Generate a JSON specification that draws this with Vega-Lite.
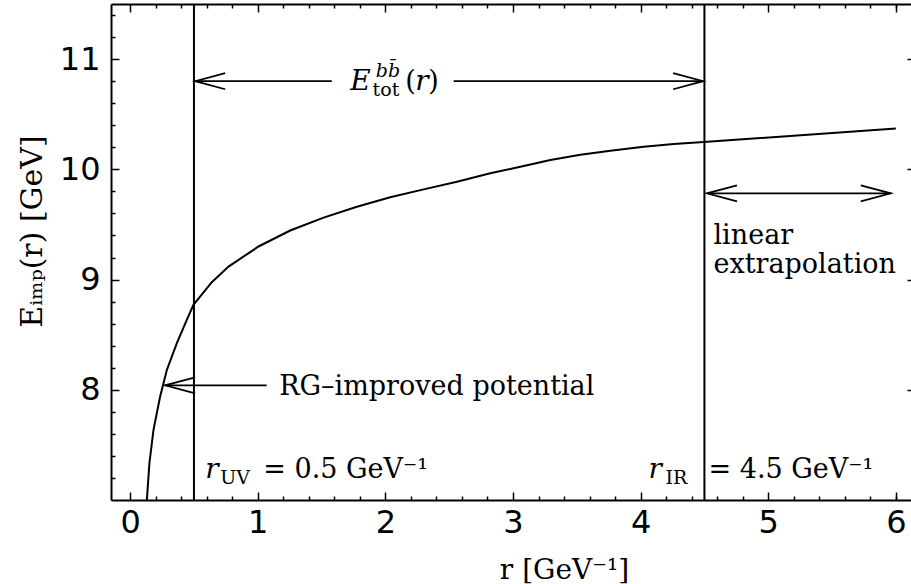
{
  "$schema": "https://vega.github.io/schema/vega-lite/v6.json",
  "width": 804,
  "height": 496,
  "autosize": {"type": "none"},
  "padding": {"left": 111, "top": 4, "right": 0, "bottom": 84},
  "background": "white",
  "config": {
    "view": {"stroke": null},
    "axis": {
      "domainColor": "black", "domainWidth": 2, "tickColor": "black", "tickWidth": 1.5,
      "labelFont": "DejaVu Sans", "labelFontSize": 32, "labelColor": "black",
      "titleFont": "DejaVu Serif", "titleFontSize": 28, "titleFontWeight": "normal", "titleColor": "black",
      "grid": false, "labelOverlap": false, "labelFlush": false
    }
  },
  "datasets": {
    "curve": [
      {"r": 0.131, "E": 7.0}, {"r": 0.151, "E": 7.335}, {"r": 0.183, "E": 7.637}, {"r": 0.235, "E": 7.939},
      {"r": 0.288, "E": 8.181}, {"r": 0.366, "E": 8.424}, {"r": 0.444, "E": 8.635}, {"r": 0.496, "E": 8.771},
      {"r": 0.64, "E": 8.976}, {"r": 0.771, "E": 9.118}, {"r": 1.006, "E": 9.3}, {"r": 1.254, "E": 9.445},
      {"r": 1.516, "E": 9.562}, {"r": 1.777, "E": 9.66}, {"r": 2.038, "E": 9.746}, {"r": 2.3, "E": 9.818},
      {"r": 2.561, "E": 9.888}, {"r": 2.822, "E": 9.964}, {"r": 3.084, "E": 10.03}, {"r": 3.293, "E": 10.085},
      {"r": 3.528, "E": 10.133}, {"r": 3.763, "E": 10.169}, {"r": 4.024, "E": 10.205}, {"r": 4.26, "E": 10.23},
      {"r": 4.495, "E": 10.248}, {"r": 6.0, "E": 10.37}
    ],
    "shafts": [
      {"r": 0.51, "r2": 1.58, "E": 10.8},
      {"r": 2.535, "r2": 4.49, "E": 10.8},
      {"r": 0.274, "r2": 1.07, "E": 8.04},
      {"r": 4.52, "r2": 5.96, "E": 9.782}
    ],
    "heads": [
      {"r": 0.51, "E": 10.8, "dir": "L"},
      {"r": 4.49, "E": 10.8, "dir": "R"},
      {"r": 0.274, "E": 8.04, "dir": "L"},
      {"r": 4.52, "E": 9.782, "dir": "L"},
      {"r": 5.96, "E": 9.782, "dir": "R"}
    ],
    "vlines": [{"r": 0.5}, {"r": 4.5}],
    "textMain": [
      {"r": 1.168, "E": 7.955, "t": "RG–improved potential"},
      {"r": 1.043, "E": 7.201, "t": "= 0.5 GeV⁻¹"},
      {"r": 4.532, "E": 7.201, "t": "= 4.5 GeV⁻¹"},
      {"r": 4.571, "E": 9.325, "t": "linear"},
      {"r": 4.571, "E": 9.062, "t": "extrapolation"},
      {"r": 2.155, "E": 10.722, "t": "("},
      {"r": 2.336, "E": 10.722, "t": ")"}
    ],
    "textItalic": [
      {"r": 0.588, "E": 7.201, "t": "r"},
      {"r": 4.061, "E": 7.201, "t": "r"},
      {"r": 1.725, "E": 10.722, "t": "E"},
      {"r": 2.235, "E": 10.722, "t": "r"}
    ],
    "textSub": [
      {"r": 0.706, "E": 7.201, "t": "UV"},
      {"r": 4.194, "E": 7.201, "t": "IR"},
      {"r": 1.9, "E": 10.722, "t": "tot"}
    ],
    "textSup": [
      {"r": 1.925, "E": 10.722, "t": "bb̄"}
    ]
  },
  "resolve": {"axis": {"x": "independent", "y": "independent"}},
  "layer": [
    {
      "data": {"name": "curve"},
      "mark": {"type": "line", "color": "black", "strokeWidth": 2, "interpolate": "linear", "clip": true},
      "encoding": {
        "x": {"field": "r", "type": "quantitative", "scale": {"domain": [-0.15, 6.15], "nice": false, "zero": false},
          "axis": {"orient": "bottom", "values": [0, 1, 2, 3, 4, 5, 6], "format": "d", "tickSize": -8, "labelPadding": 15,
            "title": "r [GeV⁻¹]", "titleX": 453, "titleY": 78, "titleBaseline": "alphabetic", "titleAlign": "center"}},
        "y": {"field": "E", "type": "quantitative", "scale": {"domain": [7, 11.5], "nice": false, "zero": false},
          "axis": {"orient": "left", "values": [8, 9, 10, 11], "format": "d", "tickSize": -8, "labelPadding": 19,
            "title": "Eᵢₘₚ(r) [GeV]", "titleFontSize": 30, "titleX": -70, "titleY": 227, "titleAngle": -90, "titleBaseline": "alphabetic", "titleAlign": "center"}}
      }
    },
    {
      "data": {"name": "shafts"},
      "mark": {"type": "rule", "color": "black", "strokeWidth": 1.8},
      "encoding": {
        "x": {"field": "r", "type": "quantitative", "scale": {"domain": [-0.15, 6.15], "nice": false, "zero": false},
          "axis": {"orient": "bottom", "values": [0.2,0.4,0.6,0.8,1.2,1.4,1.6,1.8,2.2,2.4,2.6,2.8,3.2,3.4,3.6,3.8,4.2,4.4,4.6,4.8,5.2,5.4,5.6,5.8,6.0], "tickSize": -4, "labels": false, "domain": false, "title": null}},
        "x2": {"field": "r2"},
        "y": {"field": "E", "type": "quantitative", "scale": {"domain": [7, 11.5], "nice": false, "zero": false},
          "axis": {"orient": "left", "values": [7.2,7.4,7.6,7.8,8.2,8.4,8.6,8.8,9.2,9.4,9.6,9.8,10.2,10.4,10.6,10.8,11.2,11.4], "tickSize": -4, "labels": false, "domain": false, "title": null}}
      }
    },
    {
      "data": {"name": "heads"},
      "mark": {"type": "point", "filled": false, "color": "black", "strokeWidth": 1.8, "opacity": 1, "size": 3600},
      "encoding": {
        "x": {"field": "r", "type": "quantitative", "scale": {"domain": [-0.15, 6.15], "nice": false, "zero": false},
          "axis": {"orient": "top", "values": [0, 1, 2, 3, 4, 5, 6], "tickSize": -8, "labels": false, "domain": true, "title": null}},
        "y": {"field": "E", "type": "quantitative", "scale": {"domain": [7, 11.5], "nice": false, "zero": false},
          "axis": {"orient": "right", "values": [8, 9, 10, 11], "tickSize": -8, "labels": false, "domain": true, "title": null}},
        "shape": {"field": "dir", "type": "nominal", "legend": null,
          "scale": {"domain": ["L", "R"], "range": ["M 1 -0.27 L 0 0 L 1 0.27", "M -1 -0.27 L 0 0 L -1 0.27"]}}
      }
    },
    {
      "data": {"name": "textMain"},
      "mark": {"type": "text", "font": "DejaVu Serif", "fontSize": 27, "align": "left", "baseline": "alphabetic", "color": "black"},
      "encoding": {
        "x": {"field": "r", "type": "quantitative", "scale": {"domain": [-0.15, 6.15], "nice": false, "zero": false},
          "axis": {"orient": "top", "values": [0.2,0.4,0.6,0.8,1.2,1.4,1.6,1.8,2.2,2.4,2.6,2.8,3.2,3.4,3.6,3.8,4.2,4.4,4.6,4.8,5.2,5.4,5.6,5.8,6.0], "tickSize": -4, "labels": false, "domain": false, "title": null}},
        "y": {"field": "E", "type": "quantitative", "scale": {"domain": [7, 11.5], "nice": false, "zero": false},
          "axis": {"orient": "right", "values": [7.2,7.4,7.6,7.8,8.2,8.4,8.6,8.8,9.2,9.4,9.6,9.8,10.2,10.4,10.6,10.8,11.2,11.4], "tickSize": -4, "labels": false, "domain": false, "title": null}},
        "text": {"field": "t"}
      }
    },
    {
      "data": {"name": "vlines"},
      "mark": {"type": "rule", "color": "black", "strokeWidth": 2},
      "encoding": {
        "x": {"field": "r", "type": "quantitative", "scale": {"domain": [-0.15, 6.15], "nice": false, "zero": false}, "axis": null}
      }
    },
    {
      "data": {"name": "textItalic"},
      "mark": {"type": "text", "font": "DejaVu Serif", "fontSize": 28, "fontStyle": "italic", "align": "left", "baseline": "alphabetic", "color": "black"},
      "encoding": {
        "x": {"field": "r", "type": "quantitative", "scale": {"domain": [-0.15, 6.15], "nice": false, "zero": false}, "axis": null},
        "y": {"field": "E", "type": "quantitative", "scale": {"domain": [7, 11.5], "nice": false, "zero": false}, "axis": null},
        "text": {"field": "t"}
      }
    },
    {
      "data": {"name": "textSub"},
      "mark": {"type": "text", "font": "DejaVu Serif", "fontSize": 19, "align": "left", "baseline": "alphabetic", "dy": 6, "color": "black"},
      "encoding": {
        "x": {"field": "r", "type": "quantitative", "scale": {"domain": [-0.15, 6.15], "nice": false, "zero": false}, "axis": null},
        "y": {"field": "E", "type": "quantitative", "scale": {"domain": [7, 11.5], "nice": false, "zero": false}, "axis": null},
        "text": {"field": "t"}
      }
    },
    {
      "data": {"name": "textSup"},
      "mark": {"type": "text", "font": "DejaVu Serif", "fontSize": 19, "fontStyle": "italic", "align": "left", "baseline": "alphabetic", "dy": -13, "color": "black"},
      "encoding": {
        "x": {"field": "r", "type": "quantitative", "scale": {"domain": [-0.15, 6.15], "nice": false, "zero": false}, "axis": null},
        "y": {"field": "E", "type": "quantitative", "scale": {"domain": [7, 11.5], "nice": false, "zero": false}, "axis": null},
        "text": {"field": "t"}
      }
    }
  ]
}
